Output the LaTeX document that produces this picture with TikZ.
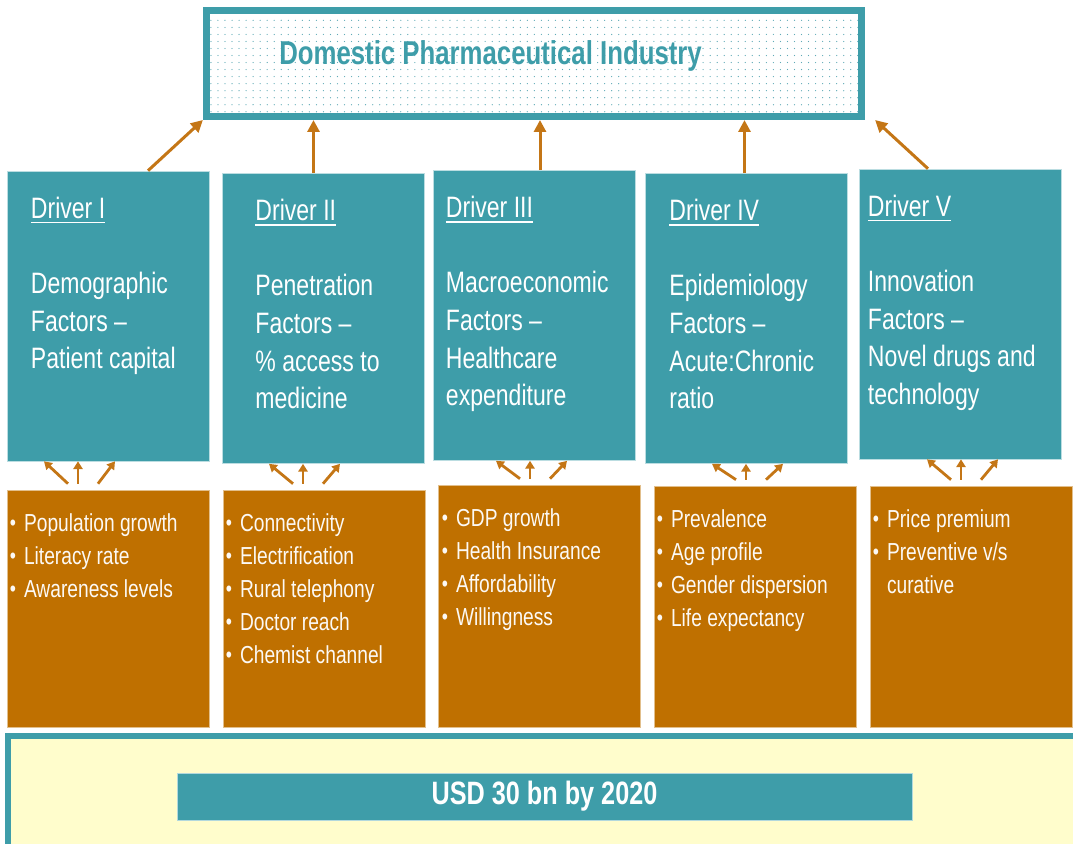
\documentclass[tikz,border=0pt]{standalone}
\usepackage{fontspec}
\setmainfont{Liberation Sans}[FakeStretch=0.78]
\usetikzlibrary{calc,arrows.meta,patterns.meta}

\definecolor{tealbox}{RGB}{62,157,169}
\definecolor{ochre}{RGB}{191,112,0}
\definecolor{arrowc}{RGB}{196,118,22}
\definecolor{cream}{RGB}{255,253,204}
\definecolor{dotc}{RGB}{95,170,182}

% underline with a heavier rule than \underline
\newcommand\drvul[1]{\leavevmode\setbox0\hbox{#1}\rlap{\rule[-3.4pt]{\wd0}{1.1pt}}\box0}
% small bullet for the factor lists
\newcommand\bitem{\makebox[10pt][l]{\raisebox{0.6pt}{\fontsize{16}{16}\selectfont •}}}

\tikzset{
  driver/.style={fill=tealbox, draw=tealbox!35!white, line width=0.4pt,
    minimum width=5.05cm, minimum height=7.25cm, inner sep=0pt},
  factor/.style={fill=ochre, draw=ochre!45!white, line width=0.4pt,
    minimum width=5.05cm, inner sep=0pt},
  drvtext/.style={anchor=north west, inner sep=0pt, align=left, text=white,
    font=\fontsize{21}{26.7}\selectfont},
  factext/.style={anchor=north west, inner sep=0pt, align=left, text=white!96!ochre,
    font=\fontsize{17.5}{23.4}\selectfont},
  lift/.style={draw=arrowc, line width=0.075cm, -{Triangle[length=8.5pt,width=8.5pt]}},
  feed/.style={draw=arrowc, line width=0.07cm, -{Triangle[length=5.5pt,width=6.5pt]}},
}

\begin{document}
\begin{tikzpicture}[x=0.025cm,y=-0.025cm]
\useasboundingbox (0,0) rectangle (1073,843);

% === TOP: industry box with dotted fill ===
\node[draw=tealbox, line width=0.175cm, minimum width=16.375cm, minimum height=2.65cm,
      pattern={Dots[distance=5pt,radius=0.45pt]}, pattern color=dotc] (ind) at (534,63.5) {};
\node[anchor=base west, inner sep=0pt, text=tealbox, font=\bfseries\fontsize{23.5}{28}\selectfont]
      (indlabel) at (279,64) {Domestic Pharmaceutical Industry};

% === MIDDLE: the five drivers ===
\node[driver] (d1) at (108,316) {};
\node[driver] (d2) at (323.5,318.5) {};
\node[driver] (d3) at (534,315.5) {};
\node[driver] (d4) at (746.5,318.5) {};
\node[driver] (d5) at (960,314) {};

\node[drvtext] (d1t) at ($(d1.north west)+(24,26)$)
  {\drvul{Driver I}\\[26.7pt]Demographic\\Factors --\\Patient capital};
\node[drvtext] (d2t) at ($(d2.north west)+(33,26)$)
  {\drvul{Driver II}\\[26.7pt]Penetration\\Factors --\\\% access to\\medicine};
\node[drvtext] (d3t) at ($(d3.north west)+(13,26)$)
  {\drvul{Driver III}\\[26.7pt]Macroeconomic\\Factors --\\Healthcare\\expenditure};
\node[drvtext] (d4t) at ($(d4.north west)+(24,26)$)
  {\drvul{Driver IV}\\[26.7pt]Epidemiology\\Factors --\\Acute:Chronic\\ratio};
\node[drvtext] (d5t) at ($(d5.north west)+(9,26)$)
  {\drvul{Driver V}\\[26.7pt]Innovation\\Factors --\\Novel drugs and\\technology};

% drivers feed the industry box
\draw[lift] ($(d1.north)+(40,0)$) -- (ind.south west);
\foreach \i/\dx in {2/-10,3/6,4/-2} {
  \coordinate (a\i) at ($(d\i.north)+(\dx,0)$);
  \draw[lift] (a\i) -- (a\i |- ind.south);
}
\draw[lift] ($(d5.north)+(-32,0)$) -- ($(ind.south east)+(10,0)$);

% === LOWER: factor lists ===
\node[factor, minimum height=5.925cm] (o1) at (108,608.5) {};
\node[factor, minimum height=5.925cm] (o2) at (324,608.5) {};
\node[factor, minimum height=6.05cm] (o3) at (539,606) {};
\node[factor, minimum height=6.025cm] (o4) at (755,606.5) {};
\node[factor, minimum height=6.025cm] (o5) at (971,606.5) {};

\node[factext] (o1t) at ($(o1.north west)+(3,24)$)
  {\bitem Population growth\\\bitem Literacy rate\\\bitem Awareness levels};
\node[factext] (o2t) at ($(o2.north west)+(3,24)$)
  {\bitem Connectivity\\\bitem Electrification\\\bitem Rural telephony\\\bitem Doctor reach\\\bitem Chemist channel};
\node[factext] (o3t) at ($(o3.north west)+(4,24)$)
  {\bitem GDP growth\\\bitem Health Insurance\\\bitem Affordability\\\bitem Willingness};
\node[factext] (o4t) at ($(o4.north west)+(3,24)$)
  {\bitem Prevalence\\\bitem Age profile\\\bitem Gender dispersion\\\bitem Life expectancy};
\node[factext] (o5t) at ($(o5.north west)+(3,24)$)
  {\bitem Price premium\\\bitem Preventive v/s\\\hspace*{10pt}curative};

% three small arrows from each list up to its driver
\foreach \i/\dx in {1/-30,2/-21,3/-9,4/-9,5/-10} {
  \coordinate (m\i) at ($(o\i.north)+(\dx,0)$);
  \coordinate (t\i) at (m\i |- d\i.south);
  \draw[feed] ($(m\i)+(-10,-6)$) -- ($(t\i)+(-34,0)$);
  \draw[feed] ($(m\i)+(0,-6)$) -- (t\i);
  \draw[feed] ($(m\i)+(20,-6)$) -- ($(t\i)+(37,0)$);
}

% === BOTTOM: market size banner ===
\node[draw=tealbox, fill=cream, line width=0.15cm, minimum width=28cm, minimum height=3.2cm]
  (base) at (568,800) {};
\node[fill=tealbox, draw=tealbox!40!white, line width=0.5pt, minimum width=18.375cm,
      minimum height=1.175cm, text=white, font=\bfseries\fontsize{23}{28}\selectfont]
  (usd) at (544.5,796.5) {USD 30 bn by 2020};

\end{tikzpicture}
\end{document}
